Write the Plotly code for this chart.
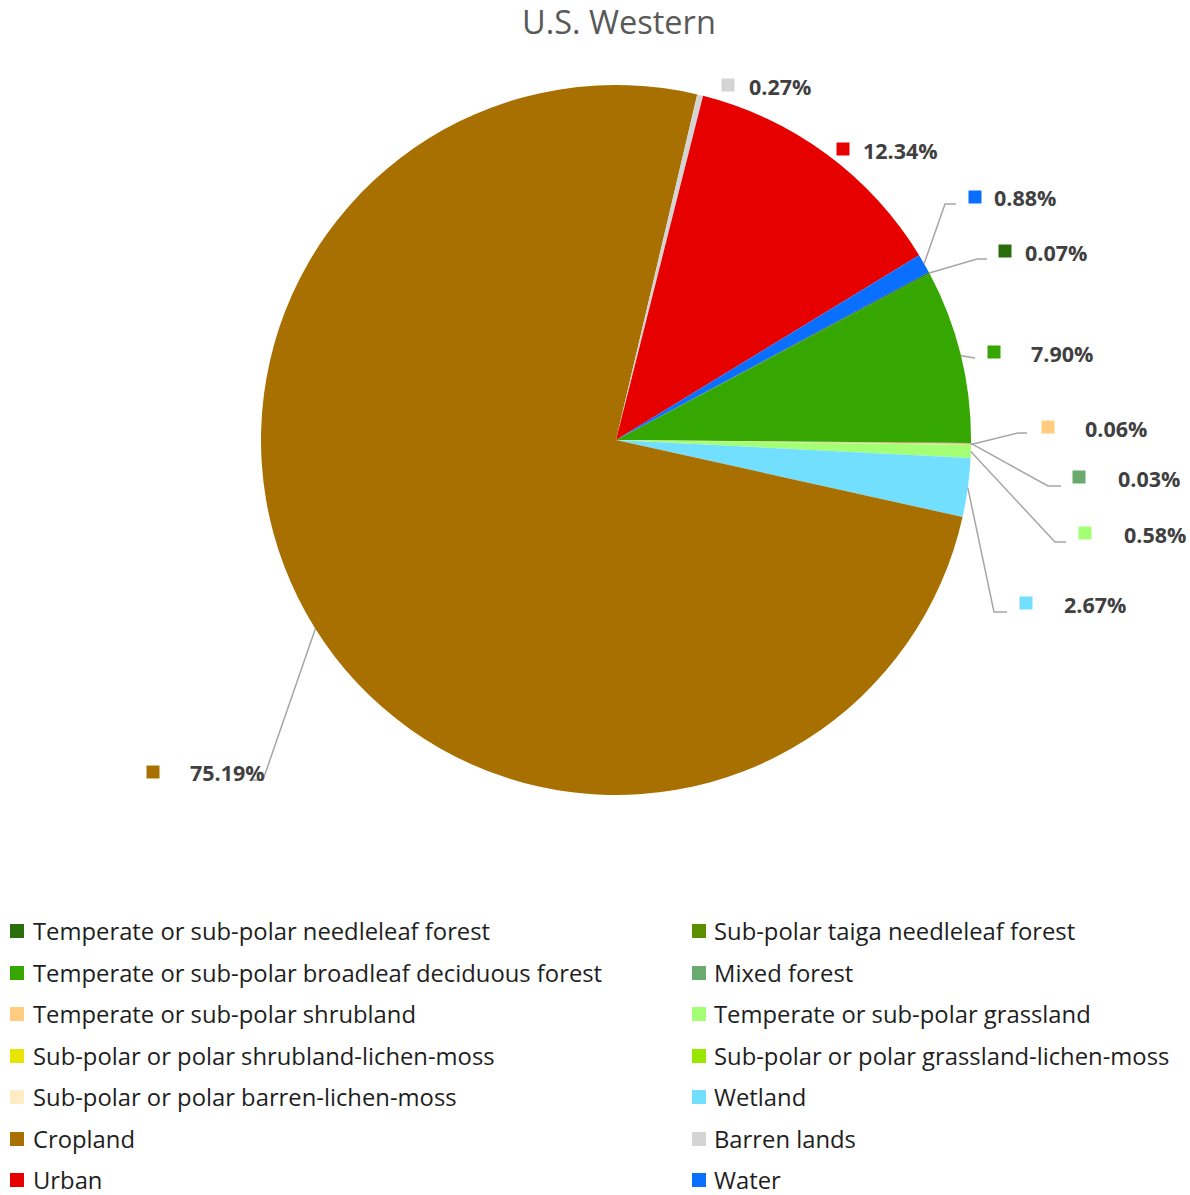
import math
import plotly.graph_objects as go

W, H = 1190, 1195

# Land-cover classes in legend / drawing order
categories = [
    "Temperate or sub-polar needleleaf forest",
    "Sub-polar taiga needleleaf forest",
    "Temperate or sub-polar broadleaf deciduous forest",
    "Mixed forest",
    "Temperate or sub-polar shrubland",
    "Temperate or sub-polar grassland",
    "Sub-polar or polar shrubland-lichen-moss",
    "Sub-polar or polar grassland-lichen-moss",
    "Sub-polar or polar barren-lichen-moss",
    "Wetland",
    "Cropland",
    "Barren lands",
    "Urban",
    "Water",
]
shares = [0.07, 0.0, 7.90, 0.03, 0.06, 0.58, 0.0, 0.0, 0.0, 2.67, 75.19, 0.27, 12.34, 0.88]
colors = [
    "#2A6E0C", "#5B8E00", "#36A600", "#6BAA6E", "#FFCC80", "#A3FF73",
    "#E6E600", "#99E600", "#FFEBC4", "#73DFFF", "#A87000", "#D4D4D4",
    "#E60000", "#0A6EFF",
]
title_text = "U.S. Western"

# Pie geometry (pixels)
CX, CY, R = 616, 440, 355
ROTATION = 61.8

FONT = "Open Sans"


def px(x):
    return x / W


def py(y):
    return 1 - y / H


fig = go.Figure(
    go.Pie(
        labels=categories,
        values=shares,
        marker=dict(colors=colors, line=dict(width=0)),
        sort=False,
        direction="clockwise",
        rotation=ROTATION,
        textinfo="none",
        textposition="none",
        hoverinfo="label+percent",
        showlegend=False,
        domain=dict(x=[px(CX - R), px(CX + R)], y=[py(CY + R), py(CY - R)]),
    )
)

# Data-label placement: swatch centre x, y, text x, leader-line bends
label_spots = {
    "Barren lands": (728, 85, 747, None),
    "Urban": (843, 149, 861, None),
    "Water": (975, 197, 992, [(945, 204), (956, 204)]),
    "Temperate or sub-polar needleleaf forest": (1005, 251, 1023, [(977, 259), (987, 259)]),
    "Temperate or sub-polar broadleaf deciduous forest": (994, 352, 1029, [(975, 358)]),
    "Temperate or sub-polar shrubland": (1048, 427, 1083, [(1018, 433), (1027, 433)]),
    "Mixed forest": (1079, 477, 1116, [(1048, 486), (1061, 486)]),
    "Temperate or sub-polar grassland": (1085, 533, 1122, [(1055, 542), (1066, 542)]),
    "Wetland": (1026, 603, 1062, [(994, 612), (1007, 612)]),
    "Cropland": (153, 772, 188, [(263, 780), (253, 780)]),
}

shapes = []
annotations = []

total = sum(shares)
cum = 0.0
for name, val, col in zip(categories, shares, colors):
    start = cum
    cum += val
    if val <= 0 or name not in label_spots:
        continue
    mid = math.radians(ROTATION + (start + val / 2) / total * 360)
    ex, ey = CX + R * math.sin(mid), CY - R * math.cos(mid)
    sx, sy, tx, bends = label_spots[name]
    if bends:
        pts = [(ex, ey)] + bends
        path = "M " + " L ".join(f"{px(x):.5f},{py(y):.5f}" for x, y in pts)
        shapes.append(dict(type="path", xref="paper", yref="paper", path=path,
                           line=dict(color="#A6A6A6", width=1.5)))
    s = 6.5
    shapes.append(dict(type="rect", xref="paper", yref="paper",
                       x0=px(sx - s), x1=px(sx + s), y0=py(sy + s), y1=py(sy - s),
                       fillcolor=col, line=dict(width=0)))
    annotations.append(dict(text=f"<b>{val:.2f}%</b>", x=px(tx), y=py(sy + 1),
                            xref="paper", yref="paper", xanchor="left", yanchor="middle",
                            showarrow=False,
                            font=dict(family=FONT, size=21.5, color="#404040")))

# Two-column legend, row-major
row_y = [931, 973, 1014, 1056, 1097, 1139, 1180]
col_sw = [17, 699]
col_tx = [31, 712]
for i, (name, col) in enumerate(zip(categories, colors)):
    r, c = divmod(i, 2)
    y = row_y[r]
    s = 7
    shapes.append(dict(type="rect", xref="paper", yref="paper",
                       x0=px(col_sw[c] - s), x1=px(col_sw[c] + s),
                       y0=py(y + s), y1=py(y - s),
                       fillcolor=col, line=dict(width=0)))
    annotations.append(dict(text=name, x=px(col_tx[c]), y=py(y),
                            xref="paper", yref="paper", xanchor="left", yanchor="middle",
                            showarrow=False,
                            font=dict(family=FONT, size=23.8, color="#1E1E1E")))

annotations.append(dict(text=title_text, x=px(619), y=py(22), xref="paper", yref="paper",
                        xanchor="center", yanchor="middle", showarrow=False,
                        font=dict(family=FONT, size=32.5, color="#595959")))

fig.update_layout(
    width=W, height=H,
    margin=dict(l=0, r=0, t=0, b=0),
    paper_bgcolor="white",
    plot_bgcolor="white",
    shapes=shapes,
    annotations=annotations,
)

fig.write_html("out.html")
